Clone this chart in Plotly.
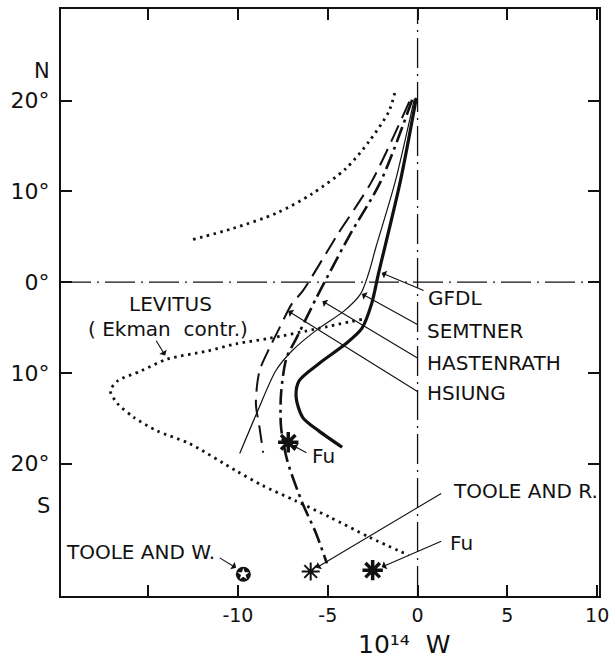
import plotly.graph_objects as go

# ---------------- data (x: 10^14 W, y: latitude deg, N positive) ----------------
gfdl_x = [-0.07, -0.96, -2.18, -2.56, -3.1, -4.0, -5.5, -6.6, -6.76, -6.4, -5.5, -4.2]
gfdl_y = [20.3, 11.1, 0.9, -2.4, -5.1, -6.8, -9.0, -10.9, -12.7, -14.9, -16.4, -18.2]

semtner_x = [-0.18, -1.24, -2.34, -2.72, -3.17, -4.1, -5.5, -7.0, -7.9, -8.9, -9.9]
semtner_y = [20.2, 11.1, 3.7, 1.0, -1.3, -3.2, -5.1, -7.6, -9.8, -14.2, -18.9]

hastenrath_x = [-0.3, -2.05, -3.8, -5.15, -5.65, -6.2, -6.75, -7.3, -7.6, -7.6, -7.25, -6.4, -5.65, -5.05]
hastenrath_y = [20.1, 11.1, 5.1, 0.1, -1.8, -4.0, -6.2, -8.4, -12.3, -16.0, -19.7, -24.4, -27.7, -31.0]

hsiung_x = [-0.46, -2.55, -4.5, -6.4, -7.0, -7.7, -8.25, -8.8, -9.0, -8.8, -8.6]
hsiung_y = [19.9, 11.1, 5.1, -1.0, -2.4, -5.1, -7.3, -9.8, -13.4, -16.0, -18.8]

levitus_n_x = [-12.5, -10.3, -7.85, -5.9, -4.0, -2.7, -1.6, -1.24]
levitus_n_y = [4.7, 5.9, 7.6, 9.7, 12.5, 15.5, 18.8, 21.1]

levitus_s_x = [-3.1, -5.5, -8.25, -10.1, -11.7, -13.95, -15.4, -16.7, -17.1, -16.7, -15.8,
               -14.5, -12.7, -10.1, -8.65, -6.8, -4.9, -2.7, -0.5]
levitus_s_y = [-4.1, -5.1, -6.2, -6.8, -7.6, -8.5, -9.8, -10.9, -12.0, -13.4, -14.9,
               -16.4, -17.8, -20.8, -22.4, -24.1, -25.9, -28.1, -30.1]

fu_n = (-7.2, -17.65)
toole_r = (-5.95, -31.9)
fu_s = (-2.5, -31.75)
toole_w = (-9.7, -32.2)

x_range = [-19.85, 10.1]
y_range = [-34.6, 30.1]

x_tickvals = [-15, -10, -5, 0, 5, 10]
x_ticktext = ["\u00a0", "-10", "-5", "0", "5", "10"]
y_tickvals = [20, 10, 0, -10, -20]
y_ticktext = ["20°", "10°", "0°", "10°", "20°"]

# labels: text, x, y (data), xanchor
labels = [
    ("LEVITUS", -13.75, -2.4, "center"),
    ("( Ekman  contr.)", -13.9, -5.2, "center"),
    ("GFDL", 0.48, -1.76, "left"),
    ("SEMTNER", 0.42, -5.4, "left"),
    ("HASTENRATH", 0.42, -8.9, "left"),
    ("HSIUNG", 0.42, -12.2, "left"),
    ("Fu", -6.0, -19.2, "left"),
    ("TOOLE AND R.", 1.86, -23.0, "left"),
    ("Fu", 1.7, -28.8, "left"),
    ("TOOLE AND W.", -19.7, -29.8, "left"),
]
# arrows: tail (x, y) -> head (x, y)
arrows = [
    ((-14.6, -6.3), (-14.05, -8.1)),
    ((0.42, -1.0), (-2.0, 1.0)),
    ((0.1, -4.8), (-3.1, -1.3)),
    ((0.1, -8.5), (-5.3, -2.1)),
    ((0.1, -12.2), (-7.2, -3.2)),
    ((-6.1, -18.9), (-6.95, -18.0)),
    ((1.4, -23.2), (-5.65, -31.5)),
    ((1.4, -28.5), (-2.0, -31.4)),
    ((-11.1, -30.3), (-10.1, -31.5)),
]

FONT = "DejaVu Sans"
BLACK = "#111111"

fig = go.Figure()

# zero lines (dash-dot)
fig.add_trace(go.Scatter(x=[0, 0], y=y_range, mode="lines",
                         line=dict(color=BLACK, width=1.3, dash="30px,6px,2px,6px"),
                         hoverinfo="skip", showlegend=False))
fig.add_trace(go.Scatter(x=x_range, y=[0, 0], mode="lines",
                         line=dict(color=BLACK, width=1.3, dash="30px,6px,2px,6px"),
                         hoverinfo="skip", showlegend=False))

def curve(x, y, width, dash):
    fig.add_trace(go.Scatter(x=x, y=y, mode="lines",
                             line=dict(color=BLACK, width=width, dash=dash,
                                       shape="spline", smoothing=0.8),
                             hoverinfo="skip", showlegend=False))

curve(levitus_n_x, levitus_n_y, 2.8, "2.5px,4.5px")
curve(levitus_s_x, levitus_s_y, 2.8, "2.5px,4.5px")
curve(hsiung_x, hsiung_y, 2.0, "18px,8px")
curve(hastenrath_x, hastenrath_y, 2.6, "16px,5px,3px,5px")
curve(semtner_x, semtner_y, 1.2, "solid")
curve(gfdl_x, gfdl_y, 3.2, "solid")

# point estimates
fig.add_trace(go.Scatter(x=[fu_n[0], fu_s[0]], y=[fu_n[1], fu_s[1]], mode="markers",
                         marker=dict(symbol="asterisk-open", size=17, color=BLACK,
                                     line=dict(color=BLACK, width=3.5)),
                         hoverinfo="skip", showlegend=False))
fig.add_trace(go.Scatter(x=[toole_r[0]], y=[toole_r[1]], mode="markers",
                         marker=dict(symbol="asterisk-open", size=15, color=BLACK,
                                     line=dict(color=BLACK, width=2)),
                         hoverinfo="skip", showlegend=False))
fig.add_trace(go.Scatter(x=[toole_w[0]], y=[toole_w[1]], mode="markers",
                         marker=dict(symbol="circle", size=15, color=BLACK,
                                     line=dict(width=0)),
                         hoverinfo="skip", showlegend=False))
fig.add_trace(go.Scatter(x=[toole_w[0]], y=[toole_w[1]], mode="markers",
                         marker=dict(symbol="star", size=9, color="white",
                                     line=dict(width=0)),
                         hoverinfo="skip", showlegend=False))

ann = []
for text, x, y, xa in labels:
    ann.append(dict(text=text, x=x, y=y, xref="x", yref="y", xanchor=xa, yanchor="middle",
                    showarrow=False, font=dict(family=FONT, size=20, color=BLACK)))
for (tx, ty), (hx, hy) in arrows:
    ann.append(dict(text="", x=hx, y=hy, ax=tx, ay=ty, xref="x", yref="y",
                    axref="x", ayref="y", showarrow=True, arrowhead=1, arrowsize=1.3,
                    arrowwidth=1.1, arrowcolor=BLACK, standoff=0, startstandoff=0))
ann.append(dict(text="N", x=-0.054, y=0.9185, xref="paper", yref="paper",
                showarrow=False, font=dict(family=FONT, size=21, color=BLACK)))
ann.append(dict(text="S", x=-0.048, y=0.129, xref="paper", yref="paper",
                showarrow=False, font=dict(family=FONT, size=21, color=BLACK)))
ann.append(dict(text="10\u00b9\u2074\u00a0\u00a0W", x=0.637, y=-0.082, xref="paper", yref="paper",
                xanchor="center", yanchor="middle",
                showarrow=False, font=dict(family=FONT, size=25, color=BLACK)))

axis_common = dict(showgrid=False, zeroline=False, showline=True, linecolor=BLACK,
                   linewidth=2, mirror="ticks", ticks="inside", ticklen=11,
                   tickwidth=1.5, tickcolor=BLACK)

fig.update_layout(
    width=616, height=658,
    margin=dict(l=61, r=14, t=7, b=62),
    paper_bgcolor="white", plot_bgcolor="white",
    xaxis=dict(range=x_range, tickmode="array", tickvals=x_tickvals, ticktext=x_ticktext,
               ticklabelstandoff=1, tickfont=dict(family=FONT, size=19, color=BLACK),
               **axis_common),
    yaxis=dict(range=y_range, tickmode="array", tickvals=y_tickvals, ticktext=y_ticktext,
               ticklabelstandoff=5, tickfont=dict(family=FONT, size=22, color=BLACK),
               **axis_common),
    annotations=ann,
    showlegend=False,
)

fig.write_html("out.html")
